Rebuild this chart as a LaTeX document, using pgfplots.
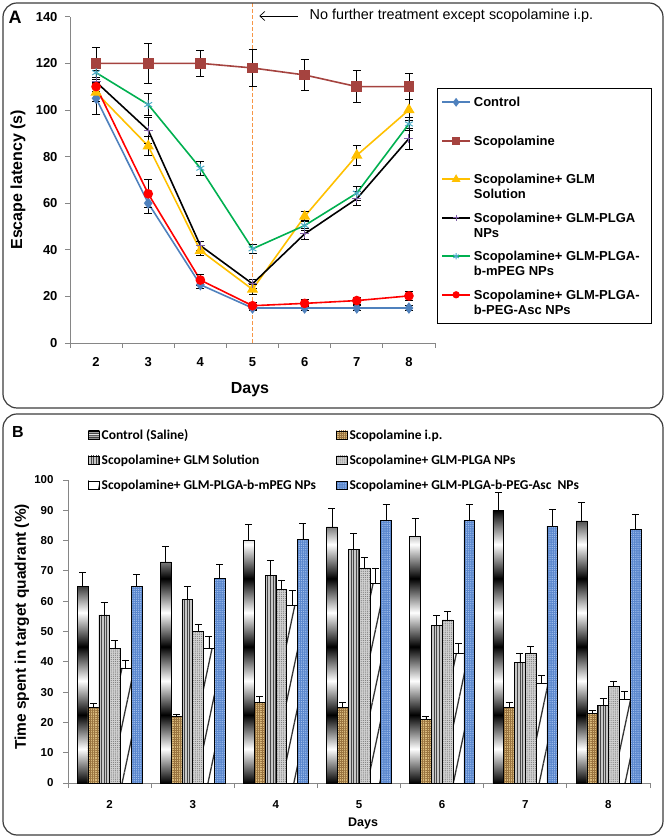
\documentclass[border=0pt]{standalone}
\usepackage{fontspec}
\setmainfont{Liberation Sans}
\newfontfamily\carlito{Carlito}
\usepackage{pgfplots}
\pgfplotsset{compat=1.18}
\usetikzlibrary{patterns,patterns.meta,arrows.meta}

\definecolor{cBlue}{HTML}{4F81BD}
\definecolor{cBrown}{HTML}{A5433F}
\definecolor{cYellow}{HTML}{FFC000}
\definecolor{cPurple}{HTML}{7F5FA6}
\definecolor{cGreen}{HTML}{00B050}
\definecolor{cCyan}{HTML}{4BACC6}
\definecolor{cRed}{HTML}{FF0000}
\definecolor{cAxis}{HTML}{868686}
\definecolor{cOrange}{HTML}{F79646}
\definecolor{cFrame}{HTML}{3C3C3C}
\definecolor{cTan}{HTML}{D8B97C}
\definecolor{cTanDark}{HTML}{9A7440}
\definecolor{cAsc}{HTML}{5A87CD}
\definecolor{cAscLight}{HTML}{A9C5F0}

% black/white bands of the control bars
\pgfdeclareverticalshading{bands}{100bp}{color(0bp)=(black); color(25bp)=(black);
  color(31.25bp)=(white); color(37.5bp)=(black); color(43.75bp)=(white);
  color(50bp)=(black); color(56.25bp)=(white); color(62.5bp)=(black);
  color(68.75bp)=(white); color(75bp)=(black); color(100bp)=(black)}

\pgfplotsset{
  errA/.style={error bars/.cd, y dir=both, y explicit,
    error bar style={black, solid, line width=0.8pt},
    error mark options={black, solid, line width=0.8pt, mark size=4pt, rotate=90}},
  errB/.style={error bars/.cd, y dir=plus, y explicit,
    error bar style={black, solid, line width=0.7pt},
    error mark options={black, solid, line width=0.7pt, mark size=3.5pt, rotate=90}},
  sqlegend/.style={legend image code/.code={
    \draw[##1, line width=0.5pt] (0pt,0pt) rectangle (11pt,8.5pt);}},
}

\begin{document}
\begin{tikzpicture}
\path (0pt,0pt) rectangle (666pt,838pt);

% ---------------- panel A ----------------
\begin{axis}[
  at={(70pt,495pt)}, anchor=south west,
  scale only axis, width=365pt, height=326.3pt,
  xmin=1.5, xmax=8.5, ymin=0, ymax=140,
  clip=false,
  axis x line*=bottom, axis y line*=left,
  axis line style={cAxis, line width=0.8pt},
  xtick={2,...,8}, ytick={0,20,...,140},
  minor xtick={1.5,2.5,...,8.5}, minor ytick={0,20,...,140},
  major tick length=0pt, minor tick length=5pt, tick align=outside,
  tick style={cAxis, line width=0.8pt},
  /pgf/number format/assume math mode=true,
  tick label style={font=\fontsize{13}{15}\selectfont\bfseries},
  yticklabel style={xshift=-9pt},
  xticklabel style={yshift=-11pt},
  xlabel={Days}, ylabel={Escape latency (s)},
  xlabel style={font=\fontsize{16}{18}\selectfont\bfseries,
    at={(axis description cs:0.493,-0.144)}, anchor=center},
  ylabel style={font=\fontsize{16}{18}\selectfont\bfseries,
    at={(axis description cs:-0.1425,0.5)}, anchor=center},
  legend image code/.code={\draw[mark repeat=2,mark phase=2,#1,
    every mark/.append style={scale=0.7}]
    plot coordinates {(0pt,4.5pt) (14pt,4.5pt) (28pt,4.5pt)};},
  legend style={at={(axis description cs:1.0055,0.7815)}, anchor=north west,
    draw=black, line width=0.6pt, fill=white, inner xsep=4pt, inner ysep=3.5pt,
    row sep=3pt,
    cells={anchor=base west},
    nodes={inner sep=1pt, text height=14pt, text depth=19.5pt},
    font=\fontsize{13}{15}\selectfont\bfseries,
    /tikz/every odd column/.append style={column sep=2pt}},
]
\draw[cOrange, line width=1pt, dash pattern=on 3.5pt off 2.5pt]
  (axis cs:5,0) -- (axis cs:5,146.2);

\addplot[color=cBlue, line width=1.6pt, mark=diamond*, mark size=4.5pt, errA]
  coordinates {(2,105) +- (0,7) (3,60) +- (0,4.5) (4,25) +- (0,1.5) (5,15) +- (0,1)
               (6,15) +- (0,1) (7,15) +- (0,1) (8,15) +- (0,1)};
\addlegendentry{\parbox[t]{172pt}{Control}}
\addplot[color=cBrown, line width=1.6pt, mark=square*, mark size=4.5pt, errA]
  coordinates {(2,120) +- (0,7) (3,120) +- (0,8.5) (4,120) +- (0,5.5) (5,118) +- (0,8)
               (6,115) +- (0,6.5) (7,110) +- (0,6.8) (8,110) +- (0,5.5)};
\addlegendentry{\parbox[t]{172pt}{Scopolamine}}
\addplot[color=cYellow, line width=1.6pt, mark=triangle*, mark size=5pt, errA]
  coordinates {(2,107.5) +- (0,4) (3,84.5) +- (0,4) (4,39.7) +- (0,2) (5,23) +- (0,2)
               (6,54.3) +- (0,2) (7,80.5) +- (0,4.3) (8,100) +- (0,4.6)};
\addlegendentry{\parbox[t]{172pt}{Scopolamine+ GLM\\Solution}}
\addplot[color=black, line width=1.6pt, mark=+, mark size=4.5pt,
  mark options={draw=cPurple, line width=1pt}, errA]
  coordinates {(2,112) +- (0,5) (3,91.3) +- (0,5.5) (4,41.8) +- (0,2) (5,25.4) +- (0,2)
               (6,46.8) +- (0,2.5) (7,61.9) +- (0,3) (8,87.7) +- (0,4.5)};
\addlegendentry{\parbox[t]{172pt}{Scopolamine+ GLM-PLGA\\NPs}}
\addplot[color=cGreen, line width=1.6pt, mark=asterisk, mark size=4.5pt,
  mark options={draw=cCyan, line width=1pt}, errA]
  coordinates {(2,116) +- (0,2) (3,102.3) +- (0,4.7) (4,75) +- (0,3) (5,40.4) +- (0,2)
               (6,50.4) +- (0,2) (7,64.3) +- (0,3) (8,94) +- (0,3)};
\addlegendentry{\parbox[t]{172pt}{Scopolamine+ GLM-PLGA-\\b-mPEG NPs}}
\addplot[color=cRed, line width=1.6pt, mark=*, mark size=4pt, errA]
  coordinates {(2,110) +- (0,2) (3,64) +- (0,6) (4,27) +- (0,2.5) (5,16) +- (0,1.5)
               (6,17) +- (0,1.5) (7,18.2) +- (0,1.5) (8,20.2) +- (0,1.8)};
\addlegendentry{\parbox[t]{172pt}{Scopolamine+ GLM-PLGA-\\b-PEG-Asc NPs}}

\draw[-{Straight Barb[length=5pt,width=9pt]}, line width=0.7pt]
  (axis cs:5.87,140.3) -- (axis cs:5.13,140.3);
\node[anchor=west, font=\fontsize{14.4}{17}\selectfont]
  at (axis cs:6.03,140.3) {No further treatment except scopolamine i.p.};
\end{axis}

% ---------------- panel B ----------------
\begin{axis}[
  at={(68pt,55pt)}, anchor=south west,
  scale only axis, width=582pt, height=303pt,
  xmin=1.5, xmax=8.5, ymin=0, ymax=100,
  ybar=0pt, bar width=0.13,
  axis x line*=bottom, axis y line*=left,
  axis line style={cAxis, line width=0.8pt},
  xtick={2,...,8}, ytick={0,10,...,100},
  minor xtick={1.5,2.5,...,8.5}, minor ytick={0,10,...,100},
  major tick length=0pt, minor tick length=5pt, tick align=outside,
  tick style={cAxis, line width=0.8pt},
  /pgf/number format/assume math mode=true,
  tick label style={font=\fontsize{11.5}{13}\selectfont\bfseries},
  yticklabel style={xshift=-11pt},
  xticklabel style={yshift=-14pt},
  xlabel={Days}, ylabel={Time spent in target quadrant (\%)},
  xlabel style={font=\fontsize{12.5}{14}\selectfont\bfseries,
    at={(axis description cs:0.507,-0.132)}, anchor=center},
  ylabel style={font=\fontsize{15.5}{17}\selectfont\bfseries,
    at={(axis description cs:-0.079,0.515)}, anchor=center},
  legend columns=2,
  legend style={at={(axis description cs:0.0344,1.1726)}, anchor=north west,
    draw=none, fill=none, inner sep=0pt, row sep=8.5pt,
    cells={anchor=base west},
    nodes={inner sep=2pt, text height=9.5pt, text depth=3pt},
    font=\carlito\fontsize{13.5}{15}\selectfont\bfseries,
    /tikz/every even column/.append style={column sep=18pt},
    /tikz/every odd column/.append style={column sep=0pt}},
]
\addplot[draw=black, line width=0.5pt, shading=bands, sqlegend, errB]
  coordinates {(2,65) +- (0,4.5) (3,73) +- (0,5) (4,80) +- (0,5.5) (5,84.5) +- (0,6.2)
               (6,81.5) +- (0,5.7) (7,90) +- (0,5.9) (8,86.5) +- (0,6.2)};
\addlegendentry{Control (Saline)}
\addplot[draw=black, line width=0.5pt, fill=cTan, sqlegend,
  postaction={pattern={Hatch[angle=0,distance=2.2pt,line width=0.45pt]}, pattern color=cTanDark},
  errB]
  coordinates {(2,25) +- (0,1.2) (3,22) +- (0,0.8) (4,26.5) +- (0,2) (5,25) +- (0,1.5)
               (6,21) +- (0,1.1) (7,25) +- (0,1.5) (8,23) +- (0,1)};
\addlegendentry{Scopolamine i.p.}
\addplot[draw=black, line width=0.5pt, fill=black!22, sqlegend,
  postaction={pattern={Lines[angle=90,distance=2.6pt,line width=0.9pt]}, pattern color=black!72},
  errB]
  coordinates {(2,55.5) +- (0,4) (3,60.5) +- (0,4.5) (4,68.5) +- (0,5) (5,77) +- (0,5.4)
               (6,52) +- (0,3.4) (7,39.8) +- (0,3) (8,25.7) +- (0,2.1)};
\addlegendentry{Scopolamine+ GLM Solution}
\addplot[draw=black, line width=0.5pt, fill=black!18, sqlegend,
  postaction={pattern={Dots[distance=2.1pt,radius=0.6pt]}, pattern color=black!50},
  errB]
  coordinates {(2,44.5) +- (0,2.5) (3,50) +- (0,2.2) (4,64) +- (0,3) (5,71) +- (0,3.5)
               (6,53.8) +- (0,2.7) (7,42.8) +- (0,2.4) (8,31.9) +- (0,1.8)};
\addlegendentry{Scopolamine+ GLM-PLGA NPs}
\addplot[draw=black, line width=0.5pt, fill=white, sqlegend,
  postaction={pattern={Lines[angle=78,distance=12pt,line width=1.3pt]}, pattern color=black!80},
  errB]
  coordinates {(2,38) +- (0,2.6) (3,44.5) +- (0,4) (4,58.5) +- (0,5) (5,66) +- (0,5)
               (6,42.8) +- (0,3.3) (7,32.9) +- (0,2.7) (8,27.7) +- (0,2.4)};
\addlegendentry{Scopolamine+ GLM-PLGA-b-mPEG NPs}
\addplot[draw=black, line width=0.5pt, fill=cAsc, sqlegend,
  postaction={pattern={Dots[distance=2.2pt,radius=0.65pt]}, pattern color=cAscLight},
  errB]
  coordinates {(2,65) +- (0,3.7) (3,67.5) +- (0,4.5) (4,80.5) +- (0,5.2) (5,86.7) +- (0,5.3)
               (6,86.7) +- (0,5.3) (7,84.8) +- (0,5.4) (8,83.8) +- (0,5)};
\addlegendentry{Scopolamine+ GLM-PLGA-b-PEG-Asc\ \ NPs}
\end{axis}

% panel frames and letters
\draw[cFrame, line width=1.2pt, rounded corners=14pt] (3pt,430pt) rectangle (663pt,835pt);
\draw[cFrame, line width=1.2pt, rounded corners=14pt] (3pt,3pt) rectangle (663pt,424pt);
\node[font=\fontsize{18}{20}\selectfont\bfseries] at (15pt,821pt) {A};
\node[font=\fontsize{16}{18}\selectfont\bfseries] at (18pt,406pt) {B};
\end{tikzpicture}
\end{document}
